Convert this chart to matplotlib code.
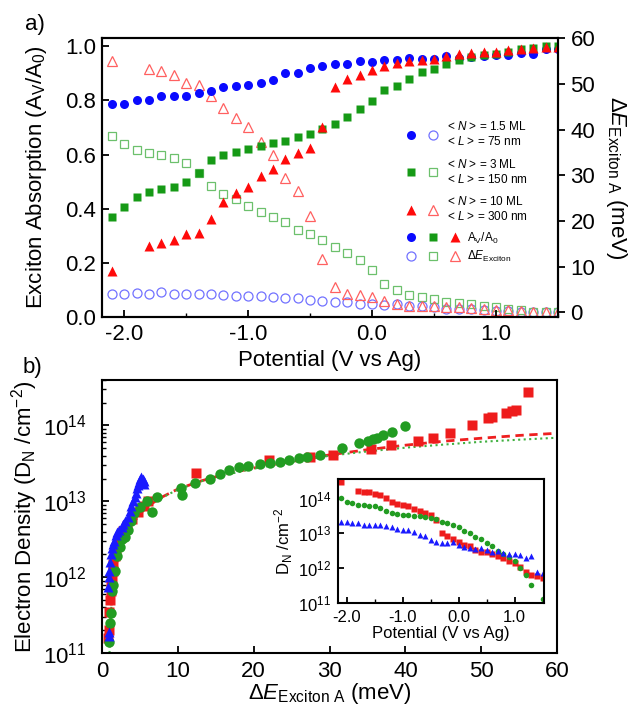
import numpy as np
import matplotlib
matplotlib.use('Agg')
import matplotlib.pyplot as plt
from matplotlib.lines import Line2D
from matplotlib.legend_handler import HandlerTuple
from matplotlib.ticker import MultipleLocator, LogLocator, NullFormatter

plt.rcParams['font.family'] = ['Liberation Sans', 'DejaVu Sans']
plt.rcParams['mathtext.fontset'] = 'custom'
plt.rcParams['mathtext.rm'] = 'Liberation Sans'
plt.rcParams['mathtext.it'] = 'Liberation Sans:italic'
plt.rcParams['axes.unicode_minus'] = False
plt.rcParams['axes.linewidth'] = 1.5

nan = np.nan

# ---- panel a: potential scan (V vs Ag)
potential = [-2.1, -2.0, -1.9, -1.8, -1.7, -1.6, -1.5, -1.4, -1.3, -1.2, -1.1, -1.0,
             -0.9, -0.8, -0.7, -0.6, -0.5, -0.4, -0.3, -0.2, -0.1, 0.0, 0.1, 0.2,
             0.3, 0.4, 0.5, 0.6, 0.7, 0.8, 0.9, 1.0, 1.1, 1.2, 1.3, 1.4, 1.5]

# A_V/A_0 (left axis)
abs_15ml = [0.786, 0.786, 0.800, 0.800, 0.815, 0.815, 0.815, 0.826, 0.836, 0.850, 0.854, 0.857,
            0.864, 0.877, 0.900, 0.903, 0.918, 0.926, 0.936, 0.935, 0.944, 0.941, 0.951, 0.948,
            0.957, 0.954, 0.954, 0.963, 0.957, 0.960, 0.965, 0.967, 0.969, 0.975, 0.973, 0.990, 0.990]
abs_3ml = [0.370, 0.407, 0.442, 0.462, 0.473, 0.481, 0.497, 0.530, 0.579, 0.600, 0.609, 0.622,
           0.632, 0.641, 0.649, 0.665, 0.677, 0.694, 0.714, 0.738, 0.768, 0.796, 0.837, 0.854,
           0.880, 0.904, 0.917, 0.935, 0.951, 0.960, 0.967, 0.972, 0.978, 0.988, 0.994, 1.002, 1.002]
abs_10ml = [0.170, nan, nan, 0.262, 0.275, 0.284, 0.305, 0.312, 0.362, 0.426, 0.457, 0.479,
            0.519, 0.546, 0.584, 0.605, 0.626, 0.700, 0.849, 0.880, 0.895, 0.911, 0.926, 0.938,
            0.947, 0.950, 0.952, 0.965, 0.972, 0.975, 0.980, 0.980, 0.985, 0.988, 0.993, 0.996, 0.996]

# exciton A shift in meV (right axis)
shift_15ml = [4.1, 4.0, 4.2, 4.0, 4.4, 4.1, 4.0, 4.0, 4.1, 3.9, 3.6, 3.5,
              3.6, 3.3, 3.1, 3.1, 2.8, 2.5, 2.2, 2.2, 1.8, 1.8, 1.7, 1.8,
              1.5, 1.3, 1.2, 0.7, 0.7, 0.7, 0.6, 0.4, 0.4, 0.2, 0.15, 0.0, 0.0]
shift_3ml = [38.5, 36.9, 35.6, 34.9, 34.4, 33.8, 32.6, 30.4, 27.6, 26.0, 24.9, 23.3,
             22.0, 20.9, 19.8, 18.0, 17.1, 15.8, 14.3, 13.1, 11.4, 9.2, 6.2, 4.9,
             3.9, 3.3, 2.9, 2.2, 2.0, 1.8, 1.5, 1.1, 0.7, 0.5, 0.2, 0.0, 0.0]
shift_10ml = [54.9, nan, nan, 53.3, 52.7, 52.0, 50.2, 49.8, 47.4, 44.7, 42.5, 40.5,
              37.2, 34.4, 29.5, 26.5, 21.1, 11.6, 5.5, 4.1, 3.9, 3.3, 2.5, 1.8,
              1.5, 1.5, 1.5, 1.1, 1.1, 1.0, 0.7, 0.5, 0.5, 0.4, 0.2, 0.0, 0.0]

# ---- inset: electron density vs potential (cm^-2)
dens_15ml = [2.1e13, 2.1e13, 1.95e13, 1.95e13, 1.75e13, 1.75e13, 1.75e13, 1.75e13, 1.65e13, 1.5e13,
             1.35e13, 1.26e13, 1.26e13, 1.12e13, 8.9e12, 8.3e12, 6.4e12, 5.7e12, 5.4e12, 5.2e12,
             5.7e12, 4.8e12, 4.1e12, 3.9e12, 3.6e12, 3.9e12, 3.4e12, 3.0e12, 3.2e12, 2.8e12,
             2.6e12, 2.6e12, 2.45e12, 1.95e12, 2.3e12, 7.6e11, 7.2e11]
dens_3ml = [1.05e14, 8.3e13, 7.4e13, 6.7e13, 6.4e13, 6.3e13, 6.0e13, 5.4e13, 4.3e13, 3.8e13,
            3.6e13, 3.5e13, 3.3e13, 3.1e13, 3.1e13, 2.9e13, 2.8e13, 2.6e13, 2.2e13, 1.95e13,
            1.7e13, 1.5e13, 1.2e13, 1.0e13, 8.0e12, 6.7e12, 5.4e12, 4.3e12, 3.2e12, 2.6e12,
            2.1e12, 1.6e12, 1.0e12, 6.5e11, 3.3e11, nan, 1.3e11]
dens_10ml = [3.1e14, nan, nan, 1.7e14, 1.6e14, 1.6e14, 1.4e14, 1.3e14, 1.05e14, 8.0e13,
             7.0e13, 6.4e13, 6.0e13, 5.1e13, 4.3e13, 3.8e13, 3.4e13, 2.4e13, 1.05e13, 8.3e12,
             6.7e12, 5.8e12, 4.8e12, 4.3e12, 3.3e12, 3.0e12, 2.9e12, 2.6e12, 2.2e12, 2.0e12,
             1.6e12, 1.4e12, 1.07e12, 8.0e11, 6.3e11, 6.1e11, 5.1e11]

# ---- panel b: density vs exciton shift
eb_15ml = [0.9, 0.95, 0.85, 0.9, 1.0, 1.1, 1.2, 1.35, 1.5, 1.6, 1.8, 2.0, 2.3, 2.6, 2.8,
           3.1, 3.4, 3.7, 3.9, 4.1, 4.3, 4.5, 4.6, 4.8, 4.9, 5.0, 5.2, 5.4, 5.5, 5.6]
db_15ml = [1.7e11, 1.9e11, 7.5e11, 1.0e12, 1.2e12, 1.6e12, 2.0e12, 2.4e12, 2.7e12, 3.0e12,
           3.6e12, 3.9e12, 4.2e12, 4.6e12, 5.0e12, 5.5e12, 6.3e12, 7.5e12, 8.8e12, 1.0e13,
           1.15e13, 1.3e13, 1.5e13, 1.65e13, 1.8e13, 1.95e13, 2.1e13, 2.0e13, 1.85e13, 1.7e13]
eb_3ml = [39.9, 38.2, 37.0, 36.3, 35.7, 35.0, 33.9, 31.7, 28.8, 27.0, 26.0, 24.6, 23.4, 22.2,
          20.8, 19.2, 18.1, 16.8, 15.5, 14.2, 12.3, 10.4, 10.5, 7.3, 6.6, 5.9, 5.0, 4.2, 3.8,
          3.4, 3.0, 2.6, 2.4, 2.0, 1.7, 1.5, 1.3, 1.2, 1.1, 0.95]
db_3ml = [9.8e13, 8.2e13, 7.4e13, 6.9e13, 6.6e13, 6.2e13, 5.8e13, 5.0e13, 4.1e13, 3.8e13,
          3.7e13, 3.5e13, 3.3e13, 3.2e13, 3.1e13, 2.9e13, 2.8e13, 2.6e13, 2.3e13, 2.0e13,
          1.75e13, 1.5e13, 1.2e13, 1.15e13, 7.3e12, 1.0e13, 8.5e12, 7.0e12, 5.5e12, 4.2e12,
          3.4e12, 3.2e12, 2.5e12, 1.9e12, 1.2e12, 8.0e11, 6.5e11, 3.4e11, 2.5e11, 1.4e11]
eb_10ml = [56.2, 54.6, 54.0, 53.2, 51.4, 50.9, 48.8, 45.9, 43.6, 41.6, 38.1, 35.4, 30.4, 27.4,
           22.0, 12.4, 6.1, 5.5, 4.8, 4.0, 3.3, 2.8, 2.4, 2.1, 1.9, 1.7, 1.5, 1.4, 1.3, 1.2,
           1.15, 1.1, 1.0, 0.9, 0.8]
db_10ml = [2.8e14, 1.6e14, 1.55e14, 1.47e14, 1.3e14, 1.27e14, 1.02e14, 8.0e13, 6.9e13, 6.2e13,
           5.5e13, 4.9e13, 4.1e13, 3.8e13, 3.5e13, 2.4e13, 1.0e13, 8.6e12, 7.2e12, 5.8e12,
           4.8e12, 4.1e12, 3.3e12, 2.8e12, 2.3e12, 1.9e12, 1.5e12, 1.2e12, 1.0e12, 8.0e11,
           6.5e11, 5.0e11, 3.5e11, 2.0e11, 1.6e11]

# fit curves
fit_e = [1.0, 1.3, 1.7, 2.2, 3.0, 4.0, 5.0, 6.0, 8.0, 10.0, 13.0, 16.0, 20.0, 25.0,
         30.0, 35.0, 40.0, 45.0, 50.0, 55.0, 60.0]
fit_10ml = [1.2e11, 6.0e11, 1.2e12, 2.0e12, 3.3e12, 5.0e12, 6.8e12, 8.6e12, 1.15e13, 1.45e13,
            1.85e13, 2.25e13, 2.75e13, 3.35e13, 4.1e13, 4.8e13, 5.5e13, 6.2e13, 6.8e13, 7.4e13, 7.9e13]
fit_3ml = [1.0e11, 5.5e11, 1.15e12, 1.9e12, 3.2e12, 4.9e12, 6.7e12, 8.5e12, 1.13e13, 1.43e13,
           1.83e13, 2.2e13, 2.7e13, 3.3e13, 4.0e13, 4.55e13, 5.1e13, 5.6e13, 6.1e13, 6.5e13, 6.9e13]

blue, blue_o = '#0a0aff', '#7272ff'
green, green_o = '#169a16', '#6cc06c'
red, red_o = '#ff0a0a', '#ff6060'

FS = 16

fig = plt.figure(figsize=(6.29, 7.06), dpi=100)

# ================= panel a
ax = fig.add_axes([0.162, 0.551, 0.725, 0.395])
ax2 = ax.twinx()
ax.set_zorder(ax2.get_zorder() + 1)
ax.patch.set_visible(False)

ax.plot(potential, abs_15ml, 'o', color=blue, ms=6.5, mec='none')
ax.plot(potential, abs_3ml, 's', color=green, ms=6, mec='none')
ax.plot(potential, abs_10ml, '^', color=red, ms=7, mec='none')
ax2.plot(potential, shift_15ml, 'o', mfc='none', mec=blue_o, mew=0.9, ms=6.5)
ax2.plot(potential, shift_3ml, 's', mfc='none', mec=green_o, mew=0.9, ms=6)
ax2.plot(potential, shift_10ml, '^', mfc='none', mec=red_o, mew=0.9, ms=7)

ax.set_xlim(-2.18, 1.5)
ax.set_ylim(0, 1.03)
ax2.set_ylim(-1, 60)
ax.xaxis.set_major_locator(MultipleLocator(1.0))
ax.xaxis.set_minor_locator(MultipleLocator(0.5))
ax.xaxis.set_major_formatter(plt.FormatStrFormatter('%.1f'))
ax.yaxis.set_major_locator(MultipleLocator(0.2))
ax.yaxis.set_major_formatter(plt.FormatStrFormatter('%.1f'))
ax2.yaxis.set_major_locator(MultipleLocator(10))
ax.tick_params(axis='x', direction='in', length=5, width=1.3, labelsize=FS, pad=5)
ax.tick_params(axis='x', which='minor', direction='in', length=3, width=1.0)
ax.tick_params(axis='y', direction='in', length=5, width=1.3, labelsize=FS, pad=4)
ax2.tick_params(axis='y', direction='out', length=5, width=1.3, labelsize=FS, pad=4)
ax.set_xlabel('Potential (V vs Ag)', fontsize=FS, labelpad=4)
ax.set_ylabel(r'Exciton Absorption (A$_\mathregular{V}$/A$_\mathregular{0}$)', fontsize=FS, labelpad=12)
ax2.set_ylabel(r'Δ$E_\mathregular{Exciton\ A}$ (meV)', fontsize=FS, rotation=270, labelpad=24)

# legend
hb = Line2D([], [], ls='none', marker='o', color=blue, mec='none', ms=6.5)
hbo = Line2D([], [], ls='none', marker='o', mfc='none', mec=blue_o, mew=0.9, ms=6.5)
hg = Line2D([], [], ls='none', marker='s', color=green, mec='none', ms=6)
hgo = Line2D([], [], ls='none', marker='s', mfc='none', mec=green_o, mew=0.9, ms=6)
hr = Line2D([], [], ls='none', marker='^', color=red, mec='none', ms=7)
hro = Line2D([], [], ls='none', marker='^', mfc='none', mec=red_o, mew=0.9, ms=7)
leg1 = ax.legend([(hb, hbo), (hg, hgo), (hr, hro)],
                 ['< $N$ > = 1.5 ML\n< $L$ > = 75 nm',
                  '< $N$ > = 3 ML\n< $L$ > = 150 nm',
                  '< $N$ > = 10 ML\n< $L$ > = 300 nm'],
                 handler_map={tuple: HandlerTuple(ndivide=None, pad=0)},
                 loc='upper left', bbox_to_anchor=(0.6535, 0.705), frameon=False,
                 fontsize=8.5, handlelength=3.73, handletextpad=0.3, labelspacing=0.8,
                 borderpad=0, borderaxespad=0)
ax.add_artist(leg1)
ax.legend([(hb, hg, hr), (hbo, hgo, hro)],
          [r'A$_\mathregular{V}$/A$_\mathregular{0}$', r'Δ$E_\mathregular{Exciton}$'],
          handler_map={tuple: HandlerTuple(ndivide=None, pad=0)},
          loc='upper left', bbox_to_anchor=(0.6535, 0.31), frameon=False,
          fontsize=8.5, handlelength=5.6, handletextpad=0.1, labelspacing=0.3,
          borderpad=0, borderaxespad=0)

fig.text(0.04, 0.965, 'a)', fontsize=FS, va='center')

# ================= panel b
bx = fig.add_axes([0.162, 0.075, 0.724, 0.387])
bx.plot(fit_e, fit_10ml, '--', color='#ee2020', lw=2, dashes=(3, 2), zorder=1)
bx.plot(fit_e, fit_3ml, ':', color='#40b040', lw=1.5, zorder=1)
bx.plot(eb_10ml, db_10ml, 's', color='#ee1c1c', ms=7, mec='none', zorder=2)
bx.plot(eb_3ml, db_3ml, 'o', color='#229c22', ms=7.5, mec='none', zorder=3)
bx.plot(eb_15ml, db_15ml, '^', color='#1a1aff', ms=6.5, mec='none', zorder=4)
bx.set_yscale('log')
bx.set_xlim(0, 60)
bx.set_ylim(1e11, 4e14)
bx.xaxis.set_major_locator(MultipleLocator(10))
bx.yaxis.set_major_locator(LogLocator(base=10, numticks=10))
bx.yaxis.set_minor_locator(LogLocator(base=10, subs=np.arange(2, 10), numticks=10))
bx.yaxis.set_minor_formatter(NullFormatter())
bx.tick_params(axis='both', direction='in', length=5, width=1.3, labelsize=FS)
bx.tick_params(axis='y', which='minor', direction='in', length=3, width=1.0)
bx.tick_params(axis='y', pad=11)
bx.tick_params(axis='x', pad=6)
bx.set_xlabel(r'Δ$E_\mathregular{Exciton\ A}$ (meV)', fontsize=FS, labelpad=-1)
bx.set_ylabel(r'Electron Density (D$_\mathregular{N}$ /cm$^\mathregular{-2}$)', fontsize=FS, labelpad=2)
fig.text(0.036, 0.479, 'b)', fontsize=FS, va='center')

# ================= inset
ix = fig.add_axes([0.537, 0.146, 0.3275, 0.1756])
ix.plot(potential, dens_10ml, 's', color='#ee1c1c', ms=3.8, mec='none')
ix.plot(potential, dens_3ml, 'o', color='#229c22', ms=4, mec='none')
ix.plot(potential, dens_15ml, '^', color='#1a1aff', ms=4, mec='none')
ix.set_yscale('log')
ix.set_xlim(-2.16, 1.52)
ix.set_ylim(1e11, 3.7e14)
ix.xaxis.set_major_locator(MultipleLocator(1.0))
ix.xaxis.set_minor_locator(MultipleLocator(0.5))
ix.xaxis.set_major_formatter(plt.FormatStrFormatter('%.1f'))
ix.yaxis.set_major_locator(LogLocator(base=10, numticks=10))
ix.yaxis.set_minor_locator(plt.NullLocator())
ix.tick_params(axis='both', direction='in', length=4, width=1.3, labelsize=12, pad=5)
ix.tick_params(axis='x', which='minor', direction='in', length=3, width=1.0)
ix.set_xlabel('Potential (V vs Ag)', fontsize=12, labelpad=1)
ix.set_ylabel(r'D$_\mathregular{N}$ /cm$^\mathregular{-2}$', fontsize=12, labelpad=2)

fig.savefig('out.png', dpi=100)
